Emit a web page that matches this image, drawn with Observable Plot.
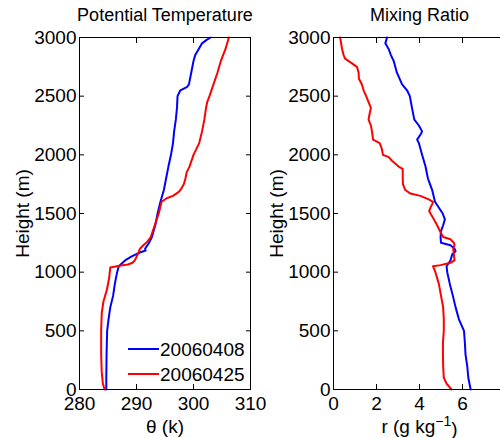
<!DOCTYPE html>
<html><head><meta charset="utf-8">
<script src="https://cdn.jsdelivr.net/npm/d3@7"></script>
<script src="https://cdn.jsdelivr.net/npm/@observablehq/plot@0.6"></script>
<style>
html,body{margin:0;padding:0;background:#fff;}
#wrap{position:relative;width:500px;height:438px;overflow:hidden;background:#fff;font-family:"Liberation Sans",Arial,Helvetica,sans-serif;}
#wrap > svg{position:absolute;top:0;}
</style></head><body><div id="wrap"></div>
<script>
// ---- data ----
const seriesNames = ["20060408", "20060425"];
const seriesColors = ["#0000ff", "#ff0000"];
const heightTicks = [0, 500, 1000, 1500, 2000, 2500, 3000];
const thetaTicks = [280, 290, 300, 310];
const mixTicks = [0, 2, 4, 6, 8];

// Potential temperature, 20060408
const thetaH0408 = [0, 100, 300, 500, 600, 700, 800, 900, 1000, 1050, 1100, 1130, 1150, 1170, 1185, 1200, 1250, 1300, 1400, 1500, 1600, 1700, 1800, 1900, 2000, 2100, 2200, 2300, 2400, 2500, 2550, 2580, 2600, 2700, 2800, 2850, 2900, 2950, 2980, 3000];
const theta0408 = [284.7, 284.7, 284.75, 284.85, 285.1, 285.4, 285.9, 286.2, 286.6, 286.9, 288.0, 289.0, 289.8, 290.7, 291.6, 291.5, 292.2, 292.7, 293.3, 293.7, 294.2, 294.8, 295.2, 295.6, 296.05, 296.4, 296.6, 296.9, 297.1, 297.2, 297.7, 298.9, 299.2, 299.6, 300.0, 300.3, 300.9, 301.5, 302.3, 303.0];
// Potential temperature, 20060425
const thetaH0425 = [0, 50, 150, 300, 500, 650, 750, 850, 950, 1040, 1055, 1065, 1080, 1100, 1130, 1160, 1200, 1230, 1260, 1300, 1400, 1500, 1600, 1630, 1650, 1680, 1700, 1750, 1800, 1850, 1900, 2000, 2100, 2200, 2300, 2400, 2450, 2500, 2600, 2700, 2800, 2900, 3000];
const theta0425 = [284.4, 284.1, 283.9, 283.8, 283.8, 283.9, 284.2, 284.8, 285.2, 285.4, 287.0, 288.5, 289.3, 289.7, 290.0, 290.3, 290.6, 291.2, 291.9, 292.5, 293.2, 293.9, 294.4, 295.3, 296.4, 297.3, 297.7, 298.3, 298.6, 298.8, 299.3, 300.0, 301.0, 301.5, 301.9, 302.2, 302.4, 302.8, 303.5, 304.2, 304.8, 305.6, 306.2];

// Mixing ratio, 20060408
const mixH0408 = [0, 100, 200, 300, 400, 500, 600, 700, 800, 900, 1000, 1050, 1100, 1150, 1180, 1200, 1230, 1250, 1300, 1350, 1400, 1450, 1500, 1600, 1700, 1800, 1900, 2000, 2100, 2130, 2180, 2200, 2250, 2300, 2400, 2500, 2550, 2600, 2700, 2800, 2850, 2900, 2950, 3000];
const mix0408 = [6.38, 6.27, 6.22, 6.14, 6.11, 6.07, 5.83, 5.68, 5.55, 5.41, 5.29, 5.26, 5.44, 5.52, 5.68, 5.63, 5.44, 5.0, 4.98, 5.0, 5.10, 5.18, 5.08, 4.72, 4.59, 4.39, 4.28, 4.12, 3.97, 3.89, 4.07, 4.12, 3.97, 3.76, 3.65, 3.55, 3.42, 3.19, 2.95, 2.80, 2.67, 2.57, 2.41, 2.49];
// Mixing ratio, 20060425
const mixH0425 = [0, 50, 100, 200, 300, 400, 500, 600, 700, 800, 900, 1000, 1050, 1060, 1080, 1100, 1150, 1200, 1230, 1250, 1280, 1300, 1350, 1400, 1450, 1520, 1550, 1580, 1600, 1620, 1650, 1670, 1700, 1750, 1800, 1880, 1900, 1950, 1980, 2000, 2050, 2100, 2130, 2200, 2250, 2300, 2350, 2400, 2450, 2500, 2550, 2600, 2650, 2700, 2750, 2780, 2820, 2850, 2900, 3000];
const mix0425 = [5.49, 5.26, 5.13, 5.10, 5.09, 5.09, 5.13, 5.13, 5.10, 5.0, 4.90, 4.74, 4.63, 4.98, 5.44, 5.63, 5.60, 5.57, 5.63, 5.60, 5.44, 5.10, 4.95, 4.82, 4.67, 4.45, 4.51, 4.59, 4.63, 4.43, 4.04, 3.58, 3.34, 3.23, 3.22, 3.22, 3.03, 2.72, 2.57, 2.30, 2.25, 2.15, 1.84, 1.79, 1.74, 1.63, 1.68, 1.74, 1.63, 1.52, 1.40, 1.32, 1.18, 1.17, 1.09, 0.86, 0.54, 0.47, 0.40, 0.31];

// ---- drawing ----
const FONT = '"Liberation Sans", Arial, Helvetica, sans-serif';
const rows = (hs, vs) => hs.map((h, i) => ({h, v: vs[i]}));
const fmt = d => String(d);

function panel({series, xDomain, xTicks, title, xLabel, marginLeft, plotWidth}) {
  const width = marginLeft + plotWidth + 6;
  return Plot.plot({
    width, height: 438,
    marginLeft, marginRight: 6, marginTop: 37, marginBottom: 49,
    style: {fontFamily: FONT, fontSize: "19px", color: "black", background: "transparent", overflow: "visible"},
    x: {domain: xDomain},
    y: {domain: [0, 3000]},
    marks: [
      ...series.map((s, i) => Plot.line(s, {x: "v", y: "h", stroke: seriesColors[i], strokeWidth: 2})),
      Plot.frame({stroke: "black", strokeWidth: 1}),
      Plot.axisX({anchor: "bottom", ticks: xTicks, tickFormat: fmt, tickSize: -5, tickPadding: 12, label: xLabel, labelAnchor: "center", labelArrow: "none", labelOffset: 43}),
      Plot.axisX({anchor: "top", ticks: xTicks, tickSize: -5, tickFormat: () => "", label: null}),
      Plot.axisY({anchor: "left", ticks: heightTicks, tickFormat: fmt, tickSize: -5, tickPadding: 8, label: "Height (m)", labelAnchor: "center", labelArrow: "none", labelOffset: 64}),
      Plot.axisY({anchor: "right", ticks: heightTicks, tickSize: -5, tickFormat: () => "", label: null}),
      Plot.text([title], {frameAnchor: "top", dy: -17, lineAnchor: "bottom", fontSize: 18, fill: "black"})
    ]
  });
}

const wrap = document.getElementById("wrap");
const left = panel({
  series: [rows(thetaH0408, theta0408), rows(thetaH0425, theta0425)],
  xDomain: [280, 310], xTicks: thetaTicks, title: "Potential Temperature", xLabel: "θ (k)",
  marginLeft: 79, plotWidth: 171
});
left.style.left = "0px";
wrap.appendChild(left);

const right = panel({
  series: [rows(mixH0408, mix0408), rows(mixH0425, mix0425)],
  xDomain: [0, 8], xTicks: mixTicks, title: "Mixing Ratio", xLabel: "r (g kg-1)",
  marginLeft: 83, plotWidth: 172
});
right.style.left = "250px";
wrap.appendChild(right);

// render the unit's exponent as a real superscript
d3.select(right).selectAll("text").each(function() {
  if (this.textContent === "r (g kg-1)") {
    const t = d3.select(this);
    t.text("r (g kg");
    t.append("tspan").attr("dy", "-0.45em").attr("font-size", "14px").text("−1");
    t.append("tspan").attr("dy", "0.45em").text(")");
  }
});

// legend (inside left panel, lower right)
const leg = d3.select(wrap).append("svg")
  .attr("width", 130).attr("height", 60)
  .style("position", "absolute").style("left", "120px").style("top", "335px")
  .style("font-family", FONT).style("font-size", "19px");
seriesNames.forEach((name, i) => {
  const y = 14 + i * 25;
  leg.append("line").attr("x1", 8).attr("x2", 39).attr("y1", y).attr("y2", y)
    .attr("stroke", seriesColors[i]).attr("stroke-width", 2);
  leg.append("text").attr("x", 40).attr("y", y + 6.5).attr("fill", "black").text(name);
});
</script>
</body></html>
